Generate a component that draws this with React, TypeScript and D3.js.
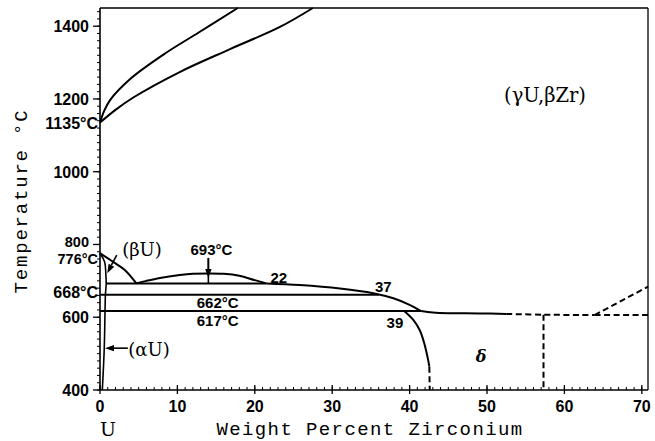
import React from "react";
import * as d3 from "d3";

type P = [number, number];

// ---- Data (wt% Zr, temperature °C) ----
const xTicks = [0, 10, 20, 30, 40, 50, 60, 70];
const yTicks = [400, 600, 800, 1000, 1200, 1400];
const specialYLabels: { t: number; label: string }[] = [
  { t: 1135, label: "1135°C" },
  { t: 776, label: "776°C" },
  { t: 668, label: "668°C" },
];

const liquidus: P[] = [[0, 1135], [0.5, 1165], [1.3, 1197], [3.9, 1255], [8.4, 1325], [12.7, 1382], [17.8, 1450]];
const solidus: P[] = [[0, 1135], [2, 1170], [4.3, 1204], [10.3, 1274], [16.8, 1337], [23.25, 1398], [27.5, 1450]];
const gammaBetaBoundary: P[] = [[0, 776], [1.7, 752], [3.2, 730], [4.7, 693]];
const uSolvus: P[] = [[0, 776], [0.6, 752], [0.75, 720], [0.8, 693], [0.7, 662], [0.65, 617], [0.55, 515], [0.3, 400]];
const monotectoid: P[] = [[0.8, 693], [21.5, 693]];
const miscibilityDome: P[] = [[4.7, 693], [6, 700], [7.75, 708], [10.3, 716], [12, 719.5], [14, 720.5], [16, 719.5], [18, 714], [20, 702], [21.5, 693]];
const gamma2Boundary: P[] = [[21.5, 693], [25.8, 688.5], [31, 679], [35.3, 666], [37.9, 652], [40, 634], [40.8, 625], [41.5, 617]];
const eutectoid662: P[] = [[0, 662], [36, 662]];
const eutectoid617: P[] = [[0, 617], [41.5, 617]];
const deltaTopSolid: P[] = [[41.5, 617], [43, 613], [45, 611], [49, 610.5], [52.5, 609]];
const deltaTopDashed: P[] = [[52.5, 609], [57.3, 607], [63.9, 606]];
const eutectoid606Dashed: P[] = [[63.9, 606], [70.8, 606]];
const alphaZrDashed: P[] = [[63.9, 606], [70.8, 684]];
const deltaRightDashed: P[] = [[57.3, 607], [57.3, 400]];
const deltaLeftSolid: P[] = [[39.3, 617], [40.5, 592], [41.3, 565], [41.9, 528], [42.4, 482], [42.55, 464]];
const deltaLeftDashed: P[] = [[42.55, 464], [42.6, 400]];

const inlineLabels: { w: number; t: number; text: string }[] = [
  { w: 14.4, t: 785, text: "693°C" },
  { w: 23.1, t: 710, text: "22" },
  { w: 36.6, t: 684, text: "37" },
  { w: 38.1, t: 586, text: "39" },
  { w: 15.2, t: 641, text: "662°C" },
  { w: 15.2, t: 592, text: "617°C" },
];

// ---- Layout ----
const W = 655;
const H = 441;
const x = d3.scaleLinear().domain([0, 70.8]).range([100, 648]);
const y = d3.scaleLinear().domain([400, 1450]).range([390, 8]);

const line = d3
  .line<P>()
  .x((d) => x(d[0]))
  .y((d) => y(d[1]))
  .curve(d3.curveCatmullRom.alpha(0.5));
const straight = d3
  .line<P>()
  .x((d) => x(d[0]))
  .y((d) => y(d[1]));

const numFont = "'Liberation Sans', Arial, sans-serif";
const serif = "'DejaVu Serif', serif";
const mono = "'Liberation Mono', monospace";

function Arrow({ from, to }: { from: [number, number]; to: [number, number] }) {
  const [x1, y1] = from;
  const [x2, y2] = to;
  const ang = Math.atan2(y2 - y1, x2 - x1);
  const L = 9;
  const Wd = 3.2;
  const bx = x2 - L * Math.cos(ang);
  const by = y2 - L * Math.sin(ang);
  const px = -Math.sin(ang) * Wd;
  const py = Math.cos(ang) * Wd;
  return (
    <g>
      <line x1={x1} y1={y1} x2={bx} y2={by} stroke="#000" strokeWidth={1.6} />
      <path d={`M${x2},${y2}L${bx + px},${by + py}L${bx - px},${by - py}Z`} fill="#000" />
    </g>
  );
}

export default function App() {
  const minorX = d3.range(0, 71, 1);
  const minorY = d3.range(400, 1451, 20);
  const solid = { fill: "none", stroke: "#000", strokeWidth: 2 };
  const dashed = { fill: "none", stroke: "#000", strokeWidth: 2, strokeDasharray: "6,3.5" };
  return (
    <div style={{ position: "absolute", left: 0, top: 0 }}>
      <svg width={W} height={H} style={{ display: "block", background: "#fff" }}>
        {/* frame */}
        <line x1={x(0)} y1={y(1450)} x2={x(70.8)} y2={y(1450)} stroke="#000" strokeWidth={1.3} />
        <line x1={x(70.8)} y1={y(1450)} x2={x(70.8)} y2={y(400)} stroke="#000" strokeWidth={1.3} />
        <line x1={x(0)} y1={y(400)} x2={x(70.8)} y2={y(400)} stroke="#000" strokeWidth={1.6} />
        <line x1={x(0)} y1={y(400)} x2={x(0)} y2={y(1450)} stroke="#000" strokeWidth={1.6} />

        {/* x ticks */}
        {minorX.map((v) => (
          <line key={"mx" + v} x1={x(v)} x2={x(v)} y1={y(400)} y2={y(400) - 3} stroke="#000" strokeWidth={1} />
        ))}
        {xTicks.map((v) => (
          <g key={"x" + v}>
            <line x1={x(v)} x2={x(v)} y1={y(400) - 5} y2={y(400) + 4} stroke="#000" strokeWidth={1.3} />
            <text x={x(v)} y={412} textAnchor="middle" fontFamily={numFont} fontWeight="bold" fontSize={16}>
              {v}
            </text>
          </g>
        ))}

        {/* y ticks */}
        {minorY.map((v) => (
          <line key={"my" + v} x1={x(0) - 3} x2={x(0)} y1={y(v)} y2={y(v)} stroke="#000" strokeWidth={1} />
        ))}
        {yTicks.map((v) => (
          <g key={"y" + v}>
            <line x1={x(0) - 7} x2={x(0)} y1={y(v)} y2={y(v)} stroke="#000" strokeWidth={1.3} />
            <text
              x={89}
              y={y(v) + (v === 800 ? 3 : 6)}
              textAnchor="end"
              fontFamily={numFont}
              fontWeight="bold"
              fontSize={v === 800 ? 14.5 : 16}
            >
              {v}
            </text>
          </g>
        ))}
        {specialYLabels.map((s) => (
          <text
            key={s.label}
            x={98}
            y={y(s.t) + (s.t === 776 ? 11 : 6)}
            textAnchor="end"
            fontFamily={numFont}
            fontWeight="bold"
            fontSize={s.t === 776 ? 14.5 : 16}
          >
            {s.label}
          </text>
        ))}

        {/* axis titles */}
        <text x={370} y={435} textAnchor="middle" fontFamily={mono} fontSize={19} letterSpacing={1.4}>
          Weight Percent Zirconium
        </text>
        <text x={108} y={436} textAnchor="middle" fontFamily={serif} fontSize={19}>
          U
        </text>
        <text
          transform={`translate(27,201) rotate(-90)`}
          textAnchor="middle"
          fontFamily={mono}
          fontSize={19}
          letterSpacing={1.8}
        >
          Temperature °C
        </text>

        {/* phase boundaries */}
        <path d={line(liquidus) ?? ""} {...solid} />
        <path d={line(solidus) ?? ""} {...solid} />
        <path d={line(gammaBetaBoundary) ?? ""} {...solid} />
        <path d={line(uSolvus) ?? ""} {...solid} strokeWidth={1.6} />
        <path d={straight(monotectoid) ?? ""} {...solid} />
        <path d={line(miscibilityDome) ?? ""} {...solid} />
        <path d={line(gamma2Boundary) ?? ""} {...solid} />
        <path d={straight(eutectoid662) ?? ""} {...solid} />
        <path d={straight(eutectoid617) ?? ""} {...solid} />
        <path d={line(deltaTopSolid) ?? ""} {...solid} />
        <path d={line(deltaTopDashed) ?? ""} {...dashed} />
        <path d={straight(eutectoid606Dashed) ?? ""} {...dashed} />
        <path d={straight(alphaZrDashed) ?? ""} {...dashed} />
        <path d={straight(deltaRightDashed) ?? ""} {...dashed} />
        <path d={line(deltaLeftSolid) ?? ""} {...solid} />
        <path d={straight(deltaLeftDashed) ?? ""} {...dashed} />

        {/* arrows */}
        <Arrow from={[x(2.16), y(771)]} to={[x(0.94), y(721)]} />
        <Arrow from={[x(3.6), y(515)]} to={[x(0.65), y(515)]} />
        <line x1={x(14)} x2={x(14)} y1={y(763)} y2={y(693)} stroke="#000" strokeWidth={1.6} />
        <Arrow from={[x(14), y(763)]} to={[x(14), y(708)]} />

        {/* region labels */}
        <text x={142} y={256} textAnchor="middle" fontFamily={serif} fontSize={18}>
          (βU)
        </text>
        <text x={149} y={356} textAnchor="middle" fontFamily={serif} fontSize={18}>
          (αU)
        </text>
        <text x={545} y={102} textAnchor="middle" fontFamily={serif} fontSize={19.5}>
          (γU,βZr)
        </text>
        <text x={481} y={362} textAnchor="middle" fontFamily={serif} fontStyle="italic" fontWeight="bold" fontSize={16}>
          δ
        </text>
        {inlineLabels.map((l) => (
          <text
            key={l.text}
            x={x(l.w)}
            y={y(l.t)}
            textAnchor="middle"
            dominantBaseline="central"
            fontFamily={numFont}
            fontWeight="bold"
            fontSize={15}
          >
            {l.text}
          </text>
        ))}
      </svg>
    </div>
  );
}
